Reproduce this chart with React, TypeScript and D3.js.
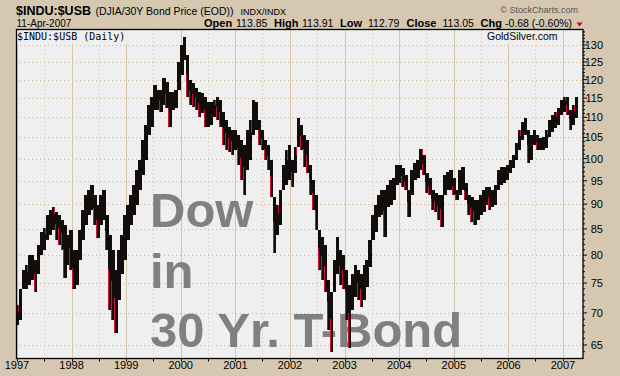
import React from "react";
import * as d3 from "d3";

// 20-day bars of $INDU:$USB, high / low
const START_DATE = "1997-01-02";
const STEP_DAYS = 20;
const HIGHS = [
  71.3, 73.0, 77.3, 78.2, 80.1, 80.1, 79.1, 81.9, 84.4, 85.2, 87.8, 88.8, 89.5, 88.4, 87.8, 86.8, 85.8, 83.8, 84.8, 81.0,
  81.0, 84.8, 88.8, 92.0, 93.0, 94.1, 92.0, 89.9, 92.0, 93.0, 87.8, 83.8, 81.0, 77.3, 81.0, 83.8, 87.8, 89.9, 92.0, 94.1,
  97.4, 99.7, 104.4, 108.1, 113.2, 115.4, 118.6, 117.2, 117.2, 120.5, 119.4, 116.7, 116.7, 117.2, 125.0, 130.0, 132.4, 127.0, 119.9, 119.1,
  117.7, 116.7, 116.4, 115.4, 114.0, 114.0, 114.5, 115.4, 114.5, 111.4, 109.4, 107.6, 106.9, 106.9, 105.6, 104.4, 103.2, 106.9, 109.4, 114.5,
  114.0, 109.4, 106.9, 104.4, 103.2, 99.7, 91.6, 89.9, 92.0, 98.6, 102.0, 103.2, 99.7, 102.5, 109.9, 108.1, 105.6, 104.4, 98.6, 95.2,
  92.0, 84.8, 83.4, 81.9, 75.6, 72.2, 79.1, 83.4, 81.0, 80.1, 77.3, 74.7, 76.5, 78.2, 77.3, 76.5, 78.2, 79.1, 82.9, 87.8,
  89.9, 92.0, 93.0, 93.0, 94.1, 95.2, 95.6, 98.6, 98.6, 97.9, 96.3, 93.0, 97.4, 99.0, 99.7, 102.2, 100.9, 96.7, 95.6, 93.0,
  92.4, 92.0, 92.0, 96.3, 97.0, 97.4, 95.6, 93.0, 97.4, 98.1, 94.5, 92.0, 91.6, 90.9, 90.9, 92.0, 93.0, 93.7, 93.7, 93.0,
  94.1, 97.4, 98.1, 98.1, 98.6, 99.7, 100.9, 103.7, 106.9, 108.9, 109.9, 106.9, 105.6, 106.9, 105.6, 104.9, 105.1, 106.9, 109.4, 110.6,
  111.4, 112.4, 114.5, 115.4, 115.2, 111.9, 113.2, 115.2,
];
const LOWS = [
  68.1, 68.9, 73.9, 73.9, 74.7, 75.6, 73.5, 76.5, 80.1, 81.0, 82.9, 83.8, 84.8, 82.9, 81.9, 81.0, 75.9, 78.2, 77.3, 73.9,
  74.7, 79.1, 82.9, 85.8, 87.8, 88.8, 85.8, 83.2, 85.8, 86.8, 81.0, 70.5, 68.9, 66.9, 72.2, 76.5, 79.1, 82.9, 85.8, 87.8,
  89.9, 93.0, 96.3, 99.7, 105.6, 107.6, 111.9, 111.9, 111.4, 113.2, 112.4, 107.6, 111.9, 112.4, 117.2, 121.3, 125.6, 115.4, 113.2, 112.7,
  111.9, 110.1, 111.1, 107.6, 107.6, 108.1, 110.1, 109.4, 107.6, 103.2, 102.0, 101.6, 100.9, 102.0, 98.6, 95.2, 92.0, 97.4, 99.7, 105.6,
  106.9, 103.2, 102.0, 99.7, 97.4, 93.7, 80.4, 83.8, 85.8, 93.0, 94.1, 95.2, 93.7, 96.7, 102.7, 102.0, 98.1, 96.7, 92.0, 88.8,
  85.8, 77.3, 75.6, 73.4, 67.3, 64.0, 73.4, 76.5, 74.7, 73.9, 68.9, 64.6, 70.5, 72.7, 72.2, 71.0, 72.2, 74.4, 77.8, 82.9,
  84.4, 87.4, 87.8, 83.4, 89.5, 89.9, 90.9, 94.1, 94.5, 93.7, 93.0, 87.4, 92.0, 95.2, 95.6, 97.4, 96.3, 92.4, 92.0, 88.8,
  88.4, 86.8, 85.4, 92.0, 93.0, 93.0, 92.0, 90.9, 92.0, 93.0, 90.9, 87.8, 86.4, 85.8, 86.8, 87.8, 88.4, 89.9, 88.8, 89.5,
  89.9, 93.0, 94.1, 94.5, 95.2, 96.7, 97.9, 99.7, 102.0, 104.4, 105.6, 99.0, 99.7, 103.2, 102.0, 102.0, 102.0, 102.5, 105.1, 106.4,
  107.4, 108.1, 110.6, 111.4, 110.6, 106.9, 108.1, 109.9,
];
const YEAR_LABELS = ["1997", "1998", "1999", "2000", "2001", "2002", "2003", "2004", "2005", "2006", "2007"];
const PRICE_TICKS = [65, 70, 75, 80, 85, 90, 95, 100, 105, 110, 115, 120, 125, 130];
const QUOTE_LABELS = ["Open", "High", "Low", "Close", "Chg"];
const QUOTE_VALUES = ["113.85", "113.91", "112.79", "113.05", "-0.68 (-0.60%)"];
const BIG_TEXT = ["Dow", "in", "30 Yr. T-Bond"];

const W = 620;
const H = 376;
const PL = 16, PR = 583, PT = 29.5, PB = 358.5;
const BG = "#D6C8B0";
const PLOT_BG = "#EFEFEF";
const GRID = "#D6C6AA";
const DOT = "#CDB99A";
const FONT = "'Liberation Sans', Arial, sans-serif";

export default function App() {
  const x = d3
    .scaleTime()
    .domain([new Date(1997, 0, 1), new Date(2007, 0, 1)])
    .range([17, 563]);
  const y = d3.scaleLog().domain([65, 130]).range([345, 45]);
  const start = d3.timeParse("%Y-%m-%d")(START_DATE) as Date;
  const dates = HIGHS.map((_, i) => d3.timeDay.offset(start, i * STEP_DAYS));

  const years = YEAR_LABELS.map((l) => new Date(+l, 0, 1));
  const halfYears = YEAR_LABELS.map((l) => new Date(+l, 6, 1)).filter((d) => x(d) < PR);
  const minorTicks = d3.range(63, 135).filter((v) => y(v) > PT && y(v) < PB);

  const quoteX = [[204, 236], [274, 302], [340, 368], [406.5, 442.5], [480.5, 505]];

  return (
    <svg width={W} height={H} style={{ position: "absolute", left: 0, top: 0 }} fontFamily={FONT}>
      <rect x={0} y={0} width={W} height={H} fill={BG} />
      {/* header */}
      <text x={16} y={15} fontSize={12.5} fontWeight="bold" fill="#000">$INDU:$USB</text>
      <text x={95.5} y={15} fontSize={10.5} fill="#000">(DJIA/30Y Bond Price (EOD))</text>
      <text x={240.5} y={15} fontSize={9} fill="#000">INDX/INDX</text>
      <text x={16.5} y={27} fontSize={10} fill="#000">11-Apr-2007</text>
      <text x={578} y={13} fontSize={9} fill="#555" textAnchor="end">© StockCharts.com</text>
      {QUOTE_LABELS.map((l, i) => (
        <g key={l}>
          <text x={quoteX[i][0]} y={27} fontSize={11} fontWeight="bold">{l}</text>
          <text x={quoteX[i][1]} y={27} fontSize={10.5}>{QUOTE_VALUES[i]}</text>
        </g>
      ))}
      <path d="M576.5,22.5 L582.5,22.5 L579.5,26.5 Z" fill="#CC0033" />

      {/* plot */}
      <rect x={PL} y={PT} width={PR - PL} height={PB - PT} fill={PLOT_BG} />
      <defs>
        <clipPath id="plotclip">
          <rect x={PL} y={PT} width={PR - PL} height={PB - PT} />
        </clipPath>
      </defs>
      <g clipPath="url(#plotclip)">
        {PRICE_TICKS.map((v) => (
          <line key={v} x1={PL} x2={PR} y1={Math.round(y(v)) + 0.5} y2={Math.round(y(v)) + 0.5}
            stroke={DOT} strokeWidth={1} strokeDasharray="1,3" />
        ))}
        {halfYears.map((d, i) => (
          <line key={i} x1={Math.round(x(d)) + 0.5} x2={Math.round(x(d)) + 0.5} y1={PT} y2={PB}
            stroke={DOT} strokeWidth={1} strokeDasharray="1,3" />
        ))}
        {years.map((d, i) => (
          <line key={i} x1={Math.round(x(d)) + 0.5} x2={Math.round(x(d)) + 0.5} y1={PT} y2={PB}
            stroke={GRID} strokeWidth={1} />
        ))}
        {/* big annotation */}
        <text x={150} y={227} fontSize={49} fontWeight="bold" fill="#808080">{BIG_TEXT[0]}</text>
        <text x={150} y={288} fontSize={49} fontWeight="bold" fill="#808080">{BIG_TEXT[1]}</text>
        <text x={150} y={347} fontSize={49} fontWeight="bold" fill="#808080">{BIG_TEXT[2]}</text>
        {/* bars */}
        <g shapeRendering="crispEdges">
          {dates.map((d, i) => {
            const cx = x(d);
            const nextHi = i < HIGHS.length - 1 ? HIGHS[i + 1] : HIGHS[i];
            const nextLo = i < LOWS.length - 1 ? LOWS[i + 1] : LOWS[i];
            const top = y(Math.max(HIGHS[i], nextLo));
            const bot = y(Math.min(LOWS[i], nextHi));
            const down = i > 0 && LOWS[i] < LOWS[i - 1];
            const h = Math.max(1, bot - top);
            return (
              <g key={i}>
                <rect x={cx - 1.5} y={top} width={3.4} height={h} fill="#120C0A" />
                {down && (
                  <rect x={cx - 1.5} y={top + h * 0.45} width={1} height={h * 0.55} fill="#D0103A" />
                )}
                {!down && i % 3 === 0 && (
                  <rect x={cx + 1} y={top} width={1} height={h * 0.3} fill="#D0103A" />
                )}
              </g>
            );
          })}
        </g>
        {/* legend boxes */}
        <rect x={PL + 1} y={PT + 1} width={112} height={13} fill={PLOT_BG} />
        <text x={17} y={40} fontSize={10} fontFamily="'DejaVu Sans Mono', monospace" fill="#000">$INDU:$USB (Daily)</text>
        <rect x={484} y={PT + 1} width={78} height={13} fill={PLOT_BG} />
        <text x={487} y={40} fontSize={10.5} fill="#000">GoldSilver.com</text>
      </g>
      <rect x={PL + 0.5} y={PT} width={PR - PL - 0.5} height={PB - PT} fill="none" stroke="#000" strokeWidth={1.3} />

      {/* right axis */}
      {minorTicks.map((v) => (
        <line key={v} x1={PR} x2={PR + (v % 5 === 0 ? 4 : 2)} y1={y(v)} y2={y(v)} stroke="#000" strokeWidth={1} />
      ))}
      {PRICE_TICKS.map((v) => (
        <text key={v} x={603} y={y(v) + 4} fontSize={11} textAnchor="end" fill="#000">{v}</text>
      ))}

      {/* bottom axis */}
      {[...years, ...halfYears].map((d, i) => (
        <line key={i} x1={Math.round(x(d)) + 0.5} x2={Math.round(x(d)) + 0.5} y1={PB} y2={PB + 3} stroke="#000" />
      ))}
      {years.map((d, i) => (
        <text key={i} x={x(d)} y={369} fontSize={11} textAnchor="middle" fill="#000">{YEAR_LABELS[i]}</text>
      ))}
    </svg>
  );
}
